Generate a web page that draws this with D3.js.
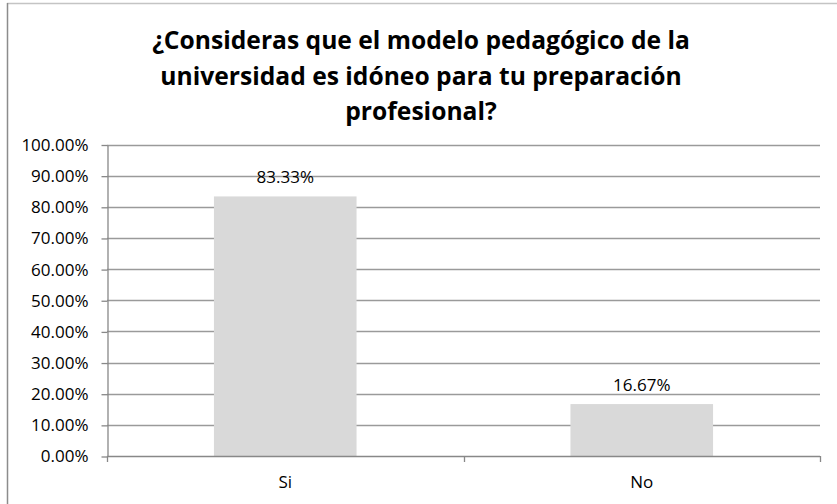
<!DOCTYPE html>
<html>
<head>
<meta charset="utf-8">
<script src="https://cdn.jsdelivr.net/npm/d3@7/dist/d3.min.js"></script>
<style>
  body { margin: 0; background: #fff; }
  svg { display: block; }
  text { font-family: "Open Sans", "Noto Sans", sans-serif; fill: #000; }
</style>
</head>
<body>
<svg id="chart" width="837" height="504"></svg>
<script>
var titleLines = ["¿Consideras que el modelo pedagógico de la",
                  "universidad es idóneo para tu preparación",
                  "profesional?"];
var categories = ["Si", "No"];
var values     = [0.8333, 0.1667];
var yTicks     = [0, 0.1, 0.2, 0.3, 0.4, 0.5, 0.6, 0.7, 0.8, 0.9, 1.0];

var plotL = 107, plotR = 820, plotT = 144.5, plotB = 456;

var svg = d3.select("#chart");

// chart area border (cropped on the right and bottom)
svg.append("line").attr("x1", 7).attr("x2", 837).attr("y1", 3.5).attr("y2", 3.5)
  .attr("stroke", "#c4c4c4").attr("stroke-width", 1.5);
svg.append("line").attr("x1", 7.5).attr("x2", 7.5).attr("y1", 3).attr("y2", 504)
  .attr("stroke", "#8c8c8c").attr("stroke-width", 1.5);

// title, fitted to the width of the first line
var title = svg.append("text")
  .attr("text-anchor", "middle")
  .style("font-weight", "bold")
  .style("font-size", "22px");
title.selectAll("tspan").data(titleLines).enter().append("tspan")
  .attr("x", 421)
  .attr("y", function(d, i){ return 49 + i * 35.5; })
  .text(function(d){ return d; });
var w = title.select("tspan").node().getComputedTextLength();
title.style("font-size", (22 * 538 / w) + "px");

var y = d3.scaleLinear().domain([0, 1]).range([plotB, plotT]);
var x = d3.scaleBand().domain(categories).range([plotL, plotR]).padding(0);

// gridlines
svg.append("g")
  .selectAll("line").data(yTicks.slice(1)).enter().append("line")
  .attr("x1", plotL).attr("x2", plotR)
  .attr("y1", function(d){ return Math.round(y(d)) + 0.5; })
  .attr("y2", function(d){ return Math.round(y(d)) + 0.5; })
  .attr("stroke", "#9a9a9a").attr("stroke-width", 1.3);

// bars
var barW = x.bandwidth() * 0.4;
svg.append("g")
  .selectAll("rect").data(values).enter().append("rect")
  .attr("x", function(d, i){ return x(categories[i]) + (x.bandwidth() - barW) / 2; })
  .attr("y", function(d){ return y(d); })
  .attr("width", barW)
  .attr("height", function(d){ return plotB - y(d); })
  .attr("fill", "#d9d9d9");

// data labels
svg.append("g")
  .selectAll("text").data(values).enter().append("text")
  .attr("x", function(d, i){ return x(categories[i]) + x.bandwidth() / 2; })
  .attr("y", function(d){ return y(d) - 13; })
  .attr("text-anchor", "middle")
  .style("font-size", "17px")
  .text(function(d){ return d3.format(".2%")(d); });

// y axis
var yAxis = svg.append("g")
  .attr("transform", "translate(" + (plotL + 0.5) + ",0.5)")
  .call(d3.axisLeft(y).tickValues(yTicks).tickFormat(d3.format(".2%"))
        .tickSize(6).tickSizeOuter(0).tickPadding(13));
yAxis.selectAll("line, path").attr("stroke", "#888").attr("stroke-width", 1.3);
yAxis.selectAll("text").style("font-size", "17px").attr("fill", "#000")
  .style("font-family", "'Open Sans', sans-serif");

// x axis: ticks at category boundaries, labels at centres
var edges = categories.map(function(c){ return x(c); }).concat([plotR]);
var xAxis = svg.append("g");
xAxis.append("line").attr("x1", plotL).attr("x2", plotR)
  .attr("y1", plotB + 0.5).attr("y2", plotB + 0.5)
  .attr("stroke", "#888").attr("stroke-width", 1.3);
xAxis.selectAll(".edge").data(edges).enter().append("line")
  .attr("class", "edge")
  .attr("x1", function(d){ return Math.round(d) + 0.5; })
  .attr("x2", function(d){ return Math.round(d) + 0.5; })
  .attr("y1", plotB).attr("y2", plotB + 6)
  .attr("stroke", "#888").attr("stroke-width", 1.3);
xAxis.selectAll(".cat").data(categories).enter().append("text")
  .attr("class", "cat")
  .attr("x", function(d){ return x(d) + x.bandwidth() / 2; })
  .attr("y", 488)
  .attr("text-anchor", "middle")
  .style("font-size", "17px")
  .text(function(d){ return d; });
</script>
</body>
</html>
